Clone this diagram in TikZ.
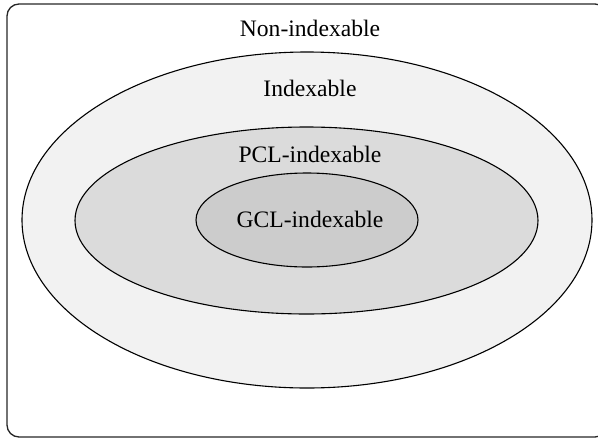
\documentclass[tikz,border=0pt]{standalone}
\usepackage{fontspec}
\setmainfont{Liberation Serif}
\usetikzlibrary{shapes.geometric}
\definecolor{fillA}{HTML}{F2F2F2}
\definecolor{fillB}{HTML}{DBDBDB}
\definecolor{fillC}{HTML}{CCCCCC}
\begin{document}
\begin{tikzpicture}[x=1pt,y=-1pt,
  setell/.style={ellipse, draw=black, line width=1.1pt, inner sep=0pt},
  lbl/.style={anchor=base, inner sep=0pt, font=\fontsize{23.6}{28}\selectfont}]
\useasboundingbox (0,0) rectangle (598,440);
\draw[line width=1.3pt, draw=black!85, rounded corners=12pt] (7,4) rectangle (607,437);
\node[setell, fill=fillA, minimum width=570pt, minimum height=336pt] (ind) at (307,220) {};
\node[setell, fill=fillB, minimum width=463pt, minimum height=187pt] (pcl) at (306.5,220.5) {};
\node[setell, fill=fillC, minimum width=222pt, minimum height=94pt] (gcl) at (307,220) {};
\node[lbl] (tnon) at (310,36.7) {Non-indexable};
\node[lbl] (tind) at (310,96.7) {Indexable};
\node[lbl] (tpcl) at (310,162) {PCL-indexable};
\node[lbl] (tgcl) at (310,227) {GCL-indexable};
\end{tikzpicture}
\end{document}
